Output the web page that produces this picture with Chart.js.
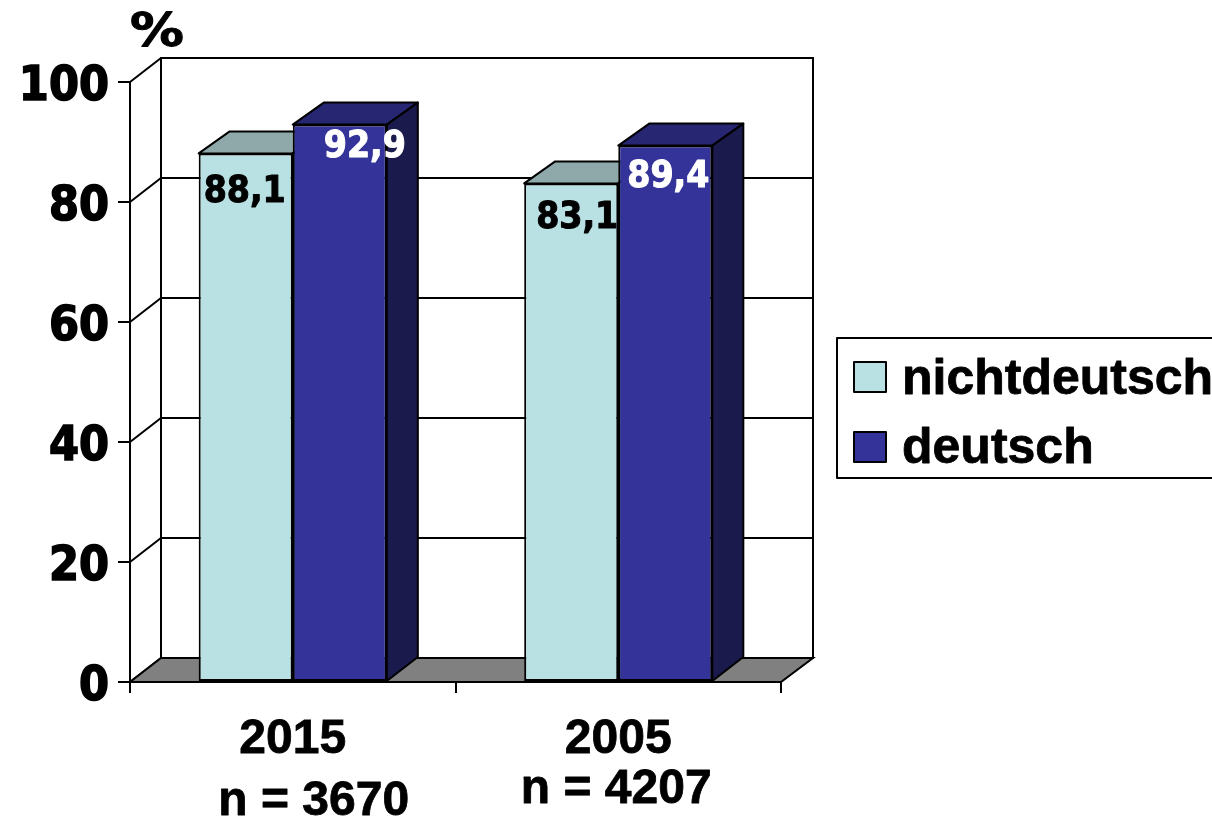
<!DOCTYPE html>
<html>
<head>
<meta charset="utf-8">
<title>Chart</title>
<script src="https://cdn.jsdelivr.net/npm/chart.js@4"></script>
<style>
    html, body { margin: 0; padding: 0; background: #fff; overflow: hidden; }
    canvas { display: block; }
</style>
</head>
<body>
<canvas id="grafik" width="1212" height="820"></canvas>
<script>
const categories = ["2015", "2005"];
const sampleSizes = ["n = 3670", "n = 4207"];
const seriesNames = ["nichtdeutsch", "deutsch"];
const nichtdeutsch = [88.1, 83.1];
const deutsch = [92.9, 89.4];
const yTicks = [0, 20, 40, 60, 80, 100];

const LIGHT = { front: "#b9e0e3", top: "#8fa8aa", side: "#6f8a8c" };
const DARK = { front: "#333399", top: "#262673", side: "#1a1a4d" };
const DX = 31, WALL_DY = -24, BAR_DY = -22;
const ARIAL = '"Liberation Sans", Arial, sans-serif';
const VERDANA = '"DejaVu Sans Condensed", "DejaVu Sans", Verdana, sans-serif';

function poly(ctx, pts, fill) {
    ctx.beginPath();
    pts.forEach((p, i) => i ? ctx.lineTo(p[0], p[1]) : ctx.moveTo(p[0], p[1]));
    ctx.closePath();
    if (fill) {
        ctx.fillStyle = fill;
        ctx.fill();
    }
    ctx.stroke();
}

// fill plus a thin outline, the original text is heavier than the bold fonts here
function heavyText(ctx, text, x, y, width) {
    ctx.lineWidth = width;
    ctx.strokeStyle = ctx.fillStyle;
    ctx.lineJoin = "round";
    ctx.strokeText(text, x, y);
    ctx.fillText(text, x, y);
}

// back wall, floor and gridlines
const wallPlugin = {
    id: "wall",
    beforeDatasetsDraw(chart) {
        const { ctx, chartArea: a, scales: { y } } = chart;
        ctx.save();
        ctx.strokeStyle = "#000";
        ctx.lineWidth = 2;
        poly(ctx, [[a.left + DX, a.top + WALL_DY], [a.right + DX + 1, a.top + WALL_DY], [a.right + DX + 1, a.bottom + WALL_DY], [a.left + DX, a.bottom + WALL_DY]]);
        yTicks.forEach(t => {
            const py = y.getPixelForValue(t);
            ctx.beginPath();
            ctx.moveTo(a.left, py);
            ctx.lineTo(a.left + DX, py + WALL_DY);
            if (t > 0 && t < 100) ctx.lineTo(a.right + DX + 1, py + WALL_DY);
            ctx.stroke();
        });
        poly(ctx, [[a.left, a.bottom], [a.left + DX, a.bottom + WALL_DY], [a.right + DX + 1, a.bottom + WALL_DY], [a.right, a.bottom]], "#808080");
        ctx.restore();
    }
};

// pixel nudges of the value labels, per series and category
const labelNudge = [[[-1, 49], [6, 45]], [[25, 32], [3, 41]]];

// the left series has to be painted first, so the bars are drawn here in that order
const boxPlugin = {
    id: "box3d",
    beforeDatasetDraw() {
        return false;
    },
    afterDatasetsDraw(chart) {
        const { ctx } = chart;
        [0, 1].forEach(index => {
            const meta = chart.getDatasetMeta(index);
            const c = index === 0 ? LIGHT : DARK;
            const values = chart.data.datasets[index].data;
            ctx.save();
            ctx.strokeStyle = "#000";
            ctx.lineWidth = 2;
            ctx.lineJoin = "round";
            meta.data.forEach(bar => {
                const l = bar.x - bar.width / 2, r = bar.x + bar.width / 2;
                poly(ctx, [[l, bar.y], [l + DX, bar.y + BAR_DY], [r + DX, bar.y + BAR_DY], [r, bar.y]], c.top);
                poly(ctx, [[r, bar.y], [r + DX, bar.y + BAR_DY], [r + DX, bar.base + WALL_DY], [r, bar.base]], c.side);
            });
            ctx.restore();
            meta.data.forEach(bar => bar.draw(ctx));
            ctx.save();
            ctx.font = 'bold 37px ' + VERDANA;
            ctx.textAlign = "center";
            ctx.fillStyle = index === 0 ? "#000" : "#fff";
            meta.data.forEach((bar, i) => {
                const n = labelNudge[index][i];
                heavyText(ctx, String(values[i]).replace(".", ","), bar.x + n[0], bar.y + n[1], 1);
            });
            ctx.restore();
        });
    }
};

const textPlugin = {
    id: "texts",
    afterDraw(chart) {
        const { ctx, scales: { x } } = chart;
        ctx.save();
        ctx.fillStyle = "#000";
        ctx.textAlign = "center";

        ctx.save();
        ctx.translate(157, 46);
        ctx.scale(1.17, 1);
        ctx.font = 'bold 46px "DejaVu Sans", Verdana, sans-serif';
        heavyText(ctx, "%", 0, 0, 1);
        ctx.restore();

        ctx.font = 'bold 48px ' + ARIAL;
        heavyText(ctx, sampleSizes[0], x.getPixelForValue(0) + 21, 815, 0.8);
        heavyText(ctx, sampleSizes[1], x.getPixelForValue(1) - 2, 803, 0.8);

        // legend
        ctx.strokeStyle = "#000";
        ctx.lineWidth = 2;
        ctx.strokeRect(837, 338, 400, 140);
        ctx.textAlign = "left";
        ctx.font = 'bold 50px ' + ARIAL;
        [LIGHT, DARK].forEach((c, i) => {
            const top = 362 + i * 70;
            ctx.fillStyle = c.front;
            ctx.strokeStyle = "#000";
            ctx.lineWidth = 2;
            ctx.fillRect(854, top, 32, 30);
            ctx.strokeRect(854, top, 32, 30);
            ctx.fillStyle = "#000";
            heavyText(ctx, seriesNames[i], 902, top + 32 - i, 0.8);
        });
        ctx.restore();
    }
};

new Chart(document.getElementById("grafik"), {
    type: "bar",
    data: {
        labels: categories,
        datasets: [
            { label: seriesNames[0], data: nichtdeutsch, backgroundColor: LIGHT.front },
            { label: seriesNames[1], data: deutsch, backgroundColor: DARK.front }
        ]
    },
    options: {
        responsive: false,
        animation: false,
        layout: { autoPadding: false, padding: { top: 82, right: 431, left: 0, bottom: 0 } },
        datasets: {
            bar: {
                categoryPercentage: 0.578,
                barPercentage: 1,
                borderColor: "#000",
                borderWidth: 2,
                borderSkipped: false
            }
        },
        plugins: {
            legend: { display: false },
            tooltip: { enabled: false }
        },
        scales: {
            x: {
                afterFit: s => { s.height = 138; },
                grid: { offset: true, drawOnChartArea: false, color: "#000", lineWidth: 2, tickLength: 11 },
                border: { color: "#000", width: 2 },
                ticks: {
                    color: "#000",
                    padding: 18,
                    maxRotation: 0,
                    textStrokeColor: "#000",
                    textStrokeWidth: 0.8,
                    font: { family: ARIAL, weight: "bold", size: 48 }
                }
            },
            y: {
                min: 0,
                max: 100,
                afterFit: s => { s.width = 130; },
                afterBuildTicks: s => { s.ticks = yTicks.map(value => ({ value })); },
                grid: { drawOnChartArea: false, color: "#000", lineWidth: 2, tickLength: 12 },
                border: { color: "#000", width: 2 },
                ticks: {
                    color: "#000",
                    padding: 9,
                    textStrokeColor: "#000",
                    textStrokeWidth: 1.5,
                    // empty first line pushes the digits down a few pixels
                    callback: v => ["", String(v)],
                    font: { family: VERDANA, weight: "bold", size: 48, lineHeight: "12px" }
                }
            }
        }
    },
    plugins: [wallPlugin, boxPlugin, textPlugin]
});
</script>
</body>
</html>
